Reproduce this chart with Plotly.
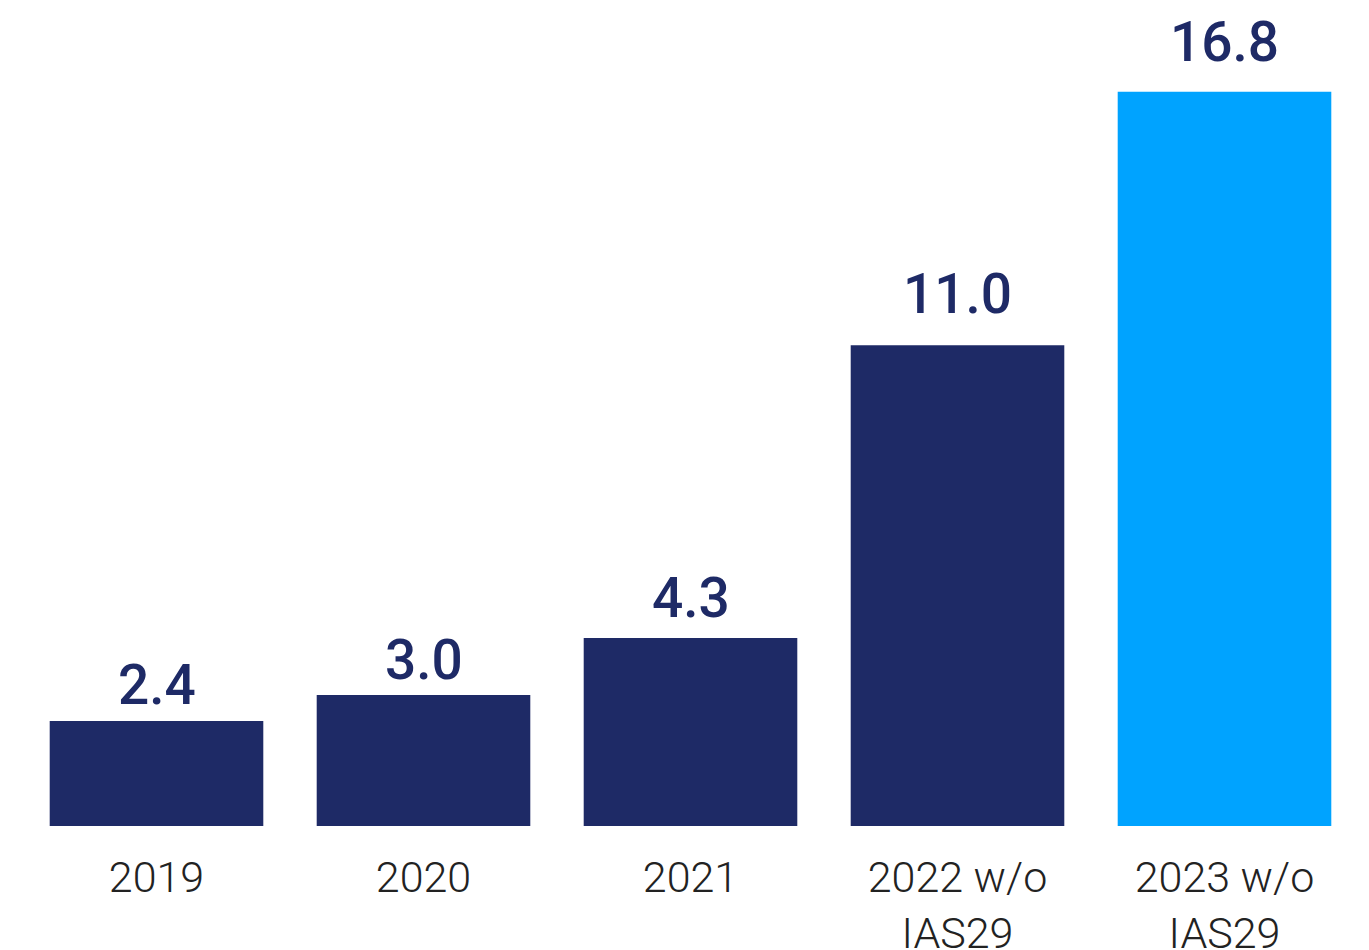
import plotly.graph_objects as go

categories = ["2019", "2020", "2021", "2022 w/o<br>IAS29", "2023 w/o<br>IAS29"]
values = [2.4, 3.0, 4.3, 11.0, 16.8]
bar_colors = ["#1E2A66", "#1E2A66", "#1E2A66", "#1E2A66", "#00A3FF"]

# extra pixel lift of each value label above its bar
label_lift = [2, 1, 6, 17, 16]

positions = list(range(len(categories)))

fig = go.Figure(
    go.Bar(
        x=positions,
        y=values,
        marker=dict(color=bar_colors, line=dict(width=0)),
        hoverinfo="skip",
    )
)

for pos, val, lift in zip(positions, values, label_lift):
    fig.add_annotation(
        x=pos,
        y=val,
        xref="x",
        yref="y",
        text=f"{val:.1f}",
        showarrow=False,
        xanchor="center",
        yanchor="bottom",
        yshift=lift,
        font=dict(family="Roboto", size=55, color="#1E2A66", weight=500),
    )

fig.update_layout(
    width=1369,
    height=950,
    margin=dict(l=23, r=11, t=0, b=124, autoexpand=False),
    paper_bgcolor="white",
    plot_bgcolor="white",
    bargap=0.2,
    showlegend=False,
    xaxis=dict(
        range=[-0.5, len(categories) - 0.5],
        tickmode="array",
        tickvals=positions,
        ticktext=categories,
        automargin=False,
        showgrid=False,
        showline=False,
        zeroline=False,
        ticks="outside",
        ticklen=13,
        tickcolor="rgba(0,0,0,0)",
        tickfont=dict(family="Roboto", size=43, color="#222222", weight=300),
    ),
    yaxis=dict(
        range=[0, 18.9],
        visible=False,
        showgrid=False,
        zeroline=False,
    ),
)

fig.write_html("out.html")
